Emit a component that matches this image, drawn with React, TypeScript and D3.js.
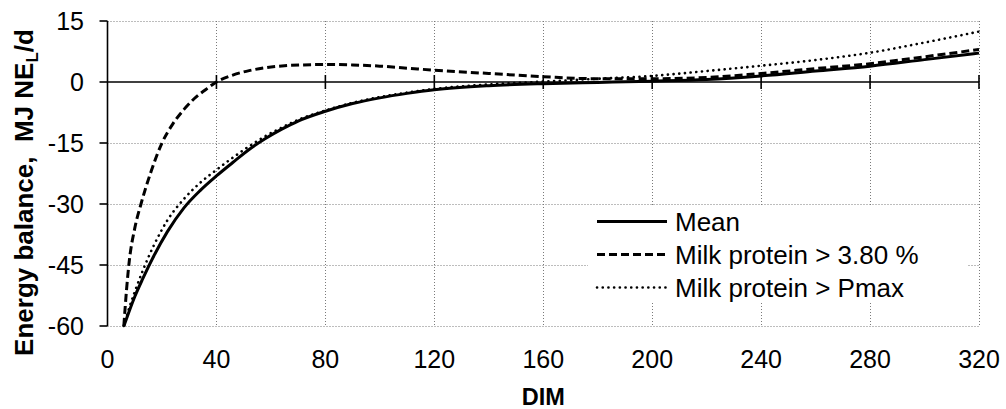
import React from "react";
import * as d3 from "d3";

// Days in milk and energy balance (MJ NEL/d) for each group
const DIM_MEAN = [6, 8, 10, 13, 17, 22, 28, 34, 40, 46, 52, 58, 64, 70, 80, 90, 100, 110, 120, 140, 160, 180, 200, 220, 240, 260, 280, 300, 320];
const MEAN = [-60, -56.3, -52.8, -48.3, -42.8, -36.8, -31, -26.7, -23.1, -19.8, -16.6, -13.9, -11.6, -9.6, -7.2, -5.3, -3.9, -2.8, -1.9, -0.9, -0.4, -0.1, 0.2, 0.6, 1.5, 2.7, 3.9, 5.5, 7.1];

const DIM_PROT = [6, 7, 8, 10, 12.3, 16, 20, 24, 28, 32, 36, 40, 46, 52, 58, 65, 72, 80, 90, 100, 110, 120, 140, 160, 180, 200, 220, 240, 260, 280, 300, 320];
const PROTEIN_380 = [-60, -51, -44, -36, -30, -22, -15, -10.3, -6.8, -4, -1.9, 0, 1.7, 2.8, 3.5, 4.0, 4.2, 4.3, 4.2, 3.9, 3.4, 2.9, 2.1, 1.3, 0.8, 0.8, 1.1, 2.1, 3.3, 4.5, 6.2, 8.0];

const DIM_PMAX = [6, 8, 10, 13, 17, 22, 28, 34, 40, 46, 52, 58, 64, 70, 80, 90, 100, 110, 120, 140, 160, 180, 200, 220, 240, 260, 280, 300, 320];
const PROTEIN_PMAX = [-60, -55.5, -51.6, -46.3, -40.2, -34, -28.8, -24.8, -21.6, -18.6, -15.8, -13.3, -11.2, -9.3, -7.0, -5.1, -3.7, -2.6, -1.7, -0.6, 0.1, 0.8, 1.5, 2.7, 4.0, 5.4, 7.2, 9.7, 12.4];

const X_TICKS = [0, 40, 80, 120, 160, 200, 240, 280, 320];
const Y_TICKS = [15, 0, -15, -30, -45, -60];

const LEGEND_LABELS = ["Mean", "Milk protein > 3.80 %", "Milk protein > Pmax"];

const FONT = "'Liberation Sans', Arial, Helvetica, sans-serif";

type Style = { width: number; dash?: string; cap?: "round" | "butt" };
const STYLES: Style[] = [
  { width: 3 },
  { width: 3, dash: "8,4" },
  { width: 2.6, dash: "0.1,5.6", cap: "round" },
];

export default function App() {
  const W = 1006;
  const H = 409;
  const x = d3.scaleLinear().domain([0, 320]).range([107.5, 979]);
  const y = d3.scaleLinear().domain([-60, 15]).range([326, 21]);

  const line = d3
    .line<[number, number]>()
    .x((d) => x(d[0]))
    .y((d) => y(d[1]))
    .curve(d3.curveMonotoneX);

  const series: [number, number][][] = [
    DIM_MEAN.map((d, i) => [d, MEAN[i]]),
    DIM_PROT.map((d, i) => [d, PROTEIN_380[i]]),
    DIM_PMAX.map((d, i) => [d, PROTEIN_PMAX[i]]),
  ];

  const gridColor = "#7a7a7a";
  const legendX = 597;
  const legendBase = 230.5;
  const legendStep = 33;

  return (
    <svg
      width={W}
      height={H}
      style={{ position: "absolute", left: 0, top: 0, background: "#fff" }}
      fontFamily={FONT}
    >
      <rect x={0} y={0} width={W} height={H} fill="#fff" />

      {/* dotted grid */}
      {Y_TICKS.filter((t) => t !== 0).map((t) => (
        <line
          key={"gy" + t}
          x1={x(0)}
          x2={x(320)}
          y1={Math.round(y(t)) + 0.5}
          y2={Math.round(y(t)) + 0.5}
          stroke={gridColor}
          strokeWidth={1}
          strokeDasharray="1,2"
        />
      ))}
      {X_TICKS.filter((t) => t !== 0).map((t) => (
        <line
          key={"gx" + t}
          x1={Math.round(x(t)) + 0.5}
          x2={Math.round(x(t)) + 0.5}
          y1={y(15)}
          y2={y(-60)}
          stroke={gridColor}
          strokeWidth={1}
          strokeDasharray="1,2"
        />
      ))}

      {/* legend background */}
      <rect x={588} y={207} width={380} height={94} fill="#fff" />

      {/* axes */}
      <line x1={x(0)} x2={x(0)} y1={y(15)} y2={y(-60)} stroke="#000" strokeWidth={1.6} />
      {Y_TICKS.map((t) => (
        <line key={"ty" + t} x1={x(0) - 8} x2={x(0)} y1={y(t)} y2={y(t)} stroke="#000" strokeWidth={1.6} />
      ))}
      <line x1={x(0)} x2={x(320)} y1={y(0)} y2={y(0)} stroke="#000" strokeWidth={1.6} />
      {X_TICKS.filter((t) => t !== 0).map((t) => (
        <line key={"tx" + t} x1={x(t)} x2={x(t)} y1={y(0) - 7} y2={y(0) + 7} stroke="#000" strokeWidth={1.6} />
      ))}

      {/* series */}
      {series.map((s, i) => (
        <path
          key={"s" + i}
          d={line(s) || ""}
          fill="none"
          stroke="#000"
          strokeWidth={STYLES[i].width}
          strokeDasharray={STYLES[i].dash}
          strokeLinecap={STYLES[i].cap || "butt"}
          strokeLinejoin="round"
        />
      ))}

      {/* tick labels */}
      {Y_TICKS.map((t) => (
        <text key={"ly" + t} x={84} y={y(t) + 9} textAnchor="end" fontSize={25} fill="#000">
          {t}
        </text>
      ))}
      {X_TICKS.map((t) => (
        <text key={"lx" + t} x={x(t)} y={368} textAnchor="middle" fontSize={25} fill="#000">
          {t}
        </text>
      ))}

      {/* axis titles */}
      <text x={x(160)} y={405} textAnchor="middle" fontSize={23.5} fontWeight="bold" fill="#000">
        DIM
      </text>
      <text
        transform={`translate(33,192.5) rotate(-90)`}
        textAnchor="middle"
        fontSize={26}
        fontWeight="bold"
        fill="#000"
        xmlSpace="preserve"
      >
        {"Energy balance,  MJ NE"}
        <tspan fontSize={17} dy={5}>L</tspan>
        <tspan dy={-5}>/d</tspan>
      </text>

      {/* legend */}
      {LEGEND_LABELS.map((label, i) => {
        const base = legendBase + legendStep * i;
        return (
          <g key={"lg" + i}>
            <line
              x1={legendX}
              x2={legendX + 70}
              y1={base - 9}
              y2={base - 9}
              stroke="#000"
              strokeWidth={STYLES[i].width}
              strokeDasharray={STYLES[i].dash}
              strokeLinecap={STYLES[i].cap || "butt"}
            />
            <text x={675} y={base} fontSize={26} fill="#000">
              {label}
            </text>
          </g>
        );
      })}
    </svg>
  );
}
